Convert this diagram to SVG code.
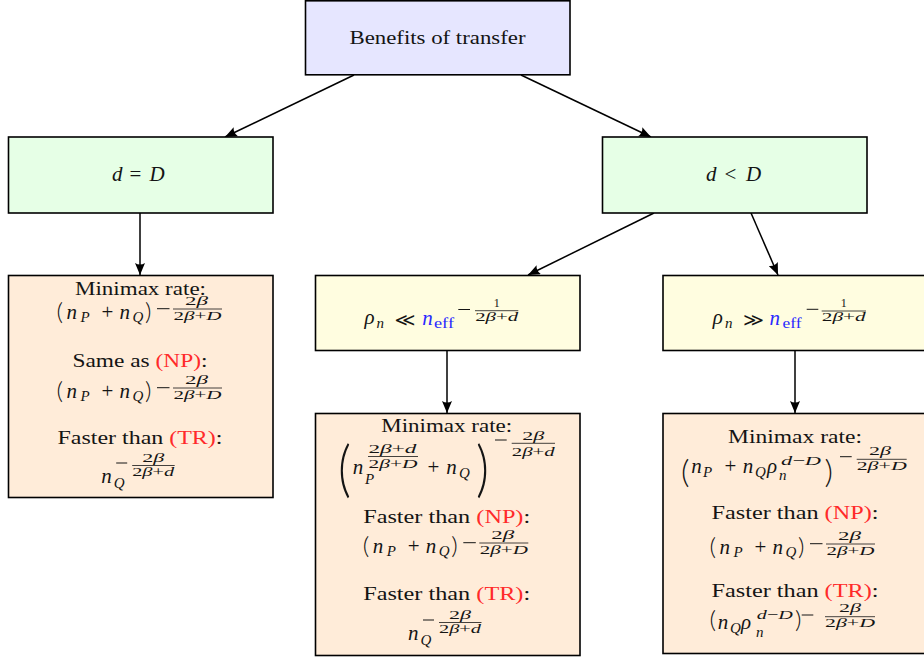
<svg xmlns="http://www.w3.org/2000/svg" xmlns:xlink="http://www.w3.org/1999/xlink" width="924" height="660" viewBox="0 0 924 660">
<style>
.box{stroke:#000;stroke-width:1.6}
.lav{fill:#e6e6ff}.grn{fill:#e6ffe6}.yel{fill:#fffde0}.org{fill:#ffecd9}
.tx{font-family:'Liberation Serif','Times New Roman',serif;fill:#141414}
.lbl{font-size:19px;text-anchor:middle}
.mr{font-size:21px}
.mi{font-size:21px;font-style:italic}
.it{font-style:italic}
.sb{font-size:15px;font-style:italic}
.fr{font-size:12px;text-anchor:middle}
.sup{font-size:13px}
.pr{font-family:Lato,'DejaVu Sans',sans-serif;font-weight:300;fill:#141414}
.rel{font-family:'DejaVu Sans',sans-serif;font-size:18px;fill:#141414}
.red{fill:#ff2a2a}
.blu{fill:#2a2aff}
.rule{stroke:#141414;stroke-width:0.8}
.mn{stroke:#141414;stroke-width:1}
.conn line{stroke:#000;stroke-width:1.5;marker-end:url(#ah)}
</style>
<defs>
<marker id="ah" viewBox="0 0 12 10" refX="12" refY="5" markerWidth="12" markerHeight="10" markerUnits="userSpaceOnUse" orient="auto">
<path d="M0,0 L12,5 L0,10 Q3,5 0,0 Z" fill="#000"/>
</marker>
<g id="fA">
<text class="pr" x="-0.5" y="1.2" font-size="22.5" textLength="6.5" lengthAdjust="spacingAndGlyphs">(</text>
<text class="tx mr"><tspan x="9.5" y="0" class="it">n</tspan><tspan x="23.5" y="3" class="sb">P</tspan><tspan x="44.5" y="0">+</tspan><tspan x="62.5" y="0" class="it">n</tspan><tspan x="75.5" y="3" class="sb">Q</tspan></text>
<text class="pr" x="88" y="1.2" font-size="22.5" textLength="6.5" lengthAdjust="spacingAndGlyphs">)</text>
<line class="mn" x1="100" y1="-10.3" x2="112.5" y2="-10.3"/>
<line class="rule" x1="116" y1="-10" x2="165" y2="-10"/>
<text class="tx fr" x="139.5" y="-14" textLength="23" lengthAdjust="spacingAndGlyphs">2<tspan class="it">β</tspan></text>
<text class="tx fr" x="140.5" y="0.5" textLength="48" lengthAdjust="spacingAndGlyphs">2<tspan class="it">β</tspan>+<tspan class="it">D</tspan></text>
</g>
<g id="fB">
<text class="tx mi" x="0" y="0">n</text>
<text class="tx sb" x="12.5" y="4.5">Q</text>
<line class="mn" x1="15" y1="-20" x2="26" y2="-20"/>
<line class="rule" x1="31" y1="-17.5" x2="73.5" y2="-17.5"/>
<text class="tx fr" x="52" y="-21" textLength="22" lengthAdjust="spacingAndGlyphs">2<tspan class="it">β</tspan></text>
<text class="tx fr" x="52" y="-7" textLength="42" lengthAdjust="spacingAndGlyphs">2<tspan class="it">β</tspan>+<tspan class="it">d</tspan></text>
</g>
</defs>

<g id="connectors" class="conn">
<line x1="354" y1="75" x2="225" y2="137"/>
<line x1="521" y1="75" x2="651" y2="137"/>
<line x1="140" y1="213" x2="140" y2="275"/>
<line x1="654" y1="213" x2="528" y2="275"/>
<line x1="751" y1="213" x2="778" y2="275"/>
<line x1="447" y1="351" x2="447" y2="413"/>
<line x1="795" y1="351" x2="795" y2="413"/>
</g>

<g id="root">
<rect class="box lav" x="305.5" y="0.8" width="264.5" height="74"/>
<text class="tx lbl" x="437.5" y="44" textLength="176" lengthAdjust="spacingAndGlyphs">Benefits of transfer</text>
</g>

<g id="eq">
<rect class="box grn" x="8.5" y="137" width="264.5" height="76"/>
<text class="tx mr" y="181"><tspan x="112" class="it">d</tspan><tspan x="129.5">=</tspan><tspan x="149.5" class="it">D</tspan></text>
</g>

<g id="lt">
<rect class="box grn" x="602.5" y="137" width="264.5" height="76"/>
<text class="tx mr" y="181"><tspan x="706" class="it">d</tspan><tspan x="724.5">&lt;</tspan><tspan x="746" class="it">D</tspan></text>
</g>

<g id="eq-rates">
<rect class="box org" x="8.5" y="275.5" width="264.5" height="222"/>
<text class="tx lbl" x="140.5" y="294.5" textLength="131" lengthAdjust="spacingAndGlyphs">Minimax rate:</text>
<use xlink:href="#fA" href="#fA" x="57" y="319"/>
<text class="tx lbl" x="140" y="367" textLength="135" lengthAdjust="spacingAndGlyphs">Same as <tspan class="red">(NP)</tspan>:</text>
<use xlink:href="#fA" href="#fA" x="57" y="398"/>
<text class="tx lbl" x="140" y="444" textLength="165" lengthAdjust="spacingAndGlyphs">Faster than <tspan class="red">(TR)</tspan>:</text>
<use xlink:href="#fB" href="#fB" x="101.2" y="483"/>
</g>

<g id="small-rho">
<rect class="box yel" x="315.5" y="275.5" width="264.5" height="75"/>
<text class="tx mi" x="364.5" y="324">ρ</text>
<text class="tx sb" x="376.5" y="327.5">n</text>
<text class="rel" x="394.5" y="326" textLength="21" lengthAdjust="spacingAndGlyphs">≪</text>
<text class="tx mi blu" x="422.2" y="325">n</text>
<text class="tx blu" x="434" y="328" font-size="14" textLength="20" lengthAdjust="spacingAndGlyphs">eff</text>
<line class="mn" x1="458.3" y1="309.5" x2="470" y2="309.5"/>
<line class="rule" x1="475" y1="310.7" x2="518.3" y2="310.7"/>
<text class="tx fr" x="496.7" y="307">1</text>
<text class="tx fr" x="496.7" y="320.5" textLength="43" lengthAdjust="spacingAndGlyphs">2<tspan class="it">β</tspan>+<tspan class="it">d</tspan></text>
</g>

<g id="large-rho">
<rect class="box yel" x="663" y="275.5" width="264.5" height="75"/>
<text class="tx mi" x="712.8" y="324">ρ</text>
<text class="tx sb" x="725" y="327.5">n</text>
<text class="rel" x="743" y="326" textLength="21" lengthAdjust="spacingAndGlyphs">≫</text>
<text class="tx mi blu" x="769.5" y="325">n</text>
<text class="tx blu" x="782.5" y="328" font-size="14" textLength="19" lengthAdjust="spacingAndGlyphs">eff</text>
<line class="mn" x1="806.7" y1="309.3" x2="818.3" y2="309.3"/>
<line class="rule" x1="821.7" y1="311" x2="866" y2="311"/>
<text class="tx fr" x="843.8" y="307">1</text>
<text class="tx fr" x="843.8" y="321" textLength="44" lengthAdjust="spacingAndGlyphs">2<tspan class="it">β</tspan>+<tspan class="it">d</tspan></text>
</g>

<g id="small-rho-rates">
<rect class="box org" x="315.5" y="413.5" width="264.5" height="242"/>
<text class="tx lbl" x="446.7" y="432" textLength="131" lengthAdjust="spacingAndGlyphs">Minimax rate:</text>
<text class="pr" x="338" y="489.5" font-size="61" textLength="13" lengthAdjust="spacingAndGlyphs">(</text>
<text class="tx mi" x="352.8" y="473.5">n</text>
<text class="tx sb" x="365" y="484">P</text>
<text class="tx fr" x="392.5" y="452.5" textLength="48" lengthAdjust="spacingAndGlyphs">2<tspan class="it">β</tspan>+<tspan class="it">d</tspan></text>
<line class="rule" x1="368" y1="456.5" x2="418" y2="456.5"/>
<text class="tx fr" x="393" y="467.5" textLength="49" lengthAdjust="spacingAndGlyphs">2<tspan class="it">β</tspan>+<tspan class="it">D</tspan></text>
<text class="tx mr" x="427.5" y="473.5">+</text>
<text class="tx mi" x="446.2" y="473.5">n</text>
<text class="tx sb" x="459" y="478">Q</text>
<text class="pr" x="476" y="489.5" font-size="61" textLength="13" lengthAdjust="spacingAndGlyphs">)</text>
<line class="mn" x1="495" y1="440" x2="506.7" y2="440"/>
<line class="rule" x1="511.7" y1="443.3" x2="555" y2="443.3"/>
<text class="tx fr" x="533.3" y="439.5" textLength="22" lengthAdjust="spacingAndGlyphs">2<tspan class="it">β</tspan></text>
<text class="tx fr" x="533.3" y="455.5" textLength="43" lengthAdjust="spacingAndGlyphs">2<tspan class="it">β</tspan>+<tspan class="it">d</tspan></text>
<text class="tx lbl" x="446.7" y="523" textLength="167" lengthAdjust="spacingAndGlyphs">Faster than <tspan class="red">(NP)</tspan>:</text>
<use xlink:href="#fA" href="#fA" x="363.3" y="553"/>
<text class="tx lbl" x="446.7" y="600" textLength="167" lengthAdjust="spacingAndGlyphs">Faster than <tspan class="red">(TR)</tspan>:</text>
<use xlink:href="#fB" href="#fB" x="408" y="640"/>
</g>

<g id="large-rho-rates">
<rect class="box org" x="663" y="413.5" width="264.5" height="240"/>
<text class="tx lbl" x="795" y="443" textLength="134" lengthAdjust="spacingAndGlyphs">Minimax rate:</text>
<text class="pr" x="681" y="482.6" font-size="31.5" textLength="8.5" lengthAdjust="spacingAndGlyphs">(</text>
<text class="tx mi" x="691.2" y="473.3">n</text>
<text class="tx sb" x="703" y="477">P</text>
<text class="tx mr" x="724.5" y="473.3">+</text>
<text class="tx mi" x="742.8" y="473.3">n</text>
<text class="tx sb" x="755" y="477">Q</text>
<text class="tx mi" x="767" y="473.3">ρ</text>
<text class="tx sup" x="781" y="465" textLength="40" lengthAdjust="spacingAndGlyphs"><tspan class="it">d</tspan>−<tspan class="it">D</tspan></text>
<text class="tx sb" x="779" y="480">n</text>
<text class="pr" x="824.5" y="482.6" font-size="31.5" textLength="8.5" lengthAdjust="spacingAndGlyphs">)</text>
<line class="mn" x1="840" y1="456.7" x2="851.7" y2="456.7"/>
<line class="rule" x1="856.7" y1="459.3" x2="906.7" y2="459.3"/>
<text class="tx fr" x="880" y="455" textLength="22" lengthAdjust="spacingAndGlyphs">2<tspan class="it">β</tspan></text>
<text class="tx fr" x="881.7" y="470" textLength="50" lengthAdjust="spacingAndGlyphs">2<tspan class="it">β</tspan>+<tspan class="it">D</tspan></text>
<text class="tx lbl" x="795" y="519" textLength="167" lengthAdjust="spacingAndGlyphs">Faster than <tspan class="red">(NP)</tspan>:</text>
<use xlink:href="#fA" href="#fA" x="710" y="554"/>
<text class="tx lbl" x="795" y="597" textLength="167" lengthAdjust="spacingAndGlyphs">Faster than <tspan class="red">(TR)</tspan>:</text>
<text class="pr" x="709.5" y="627.8" font-size="23" textLength="6.5" lengthAdjust="spacingAndGlyphs">(</text>
<text class="tx mi" x="717.8" y="628.5">n</text>
<text class="tx sb" x="730" y="632.5">Q</text>
<text class="tx mi" x="741" y="628.5">ρ</text>
<text class="tx sup" x="756.7" y="619.3" textLength="36" lengthAdjust="spacingAndGlyphs"><tspan class="it">d</tspan>−<tspan class="it">D</tspan></text>
<text class="tx sb" x="756" y="636.5">n</text>
<text class="pr" x="795" y="627.8" font-size="23" textLength="6.5" lengthAdjust="spacingAndGlyphs">)</text>
<line class="mn" x1="801.7" y1="615" x2="813.3" y2="615"/>
<line class="rule" x1="825" y1="616.7" x2="875" y2="616.7"/>
<text class="tx fr" x="850" y="612" textLength="22" lengthAdjust="spacingAndGlyphs">2<tspan class="it">β</tspan></text>
<text class="tx fr" x="850" y="626.5" textLength="50" lengthAdjust="spacingAndGlyphs">2<tspan class="it">β</tspan>+<tspan class="it">D</tspan></text>
</g>
</svg>
